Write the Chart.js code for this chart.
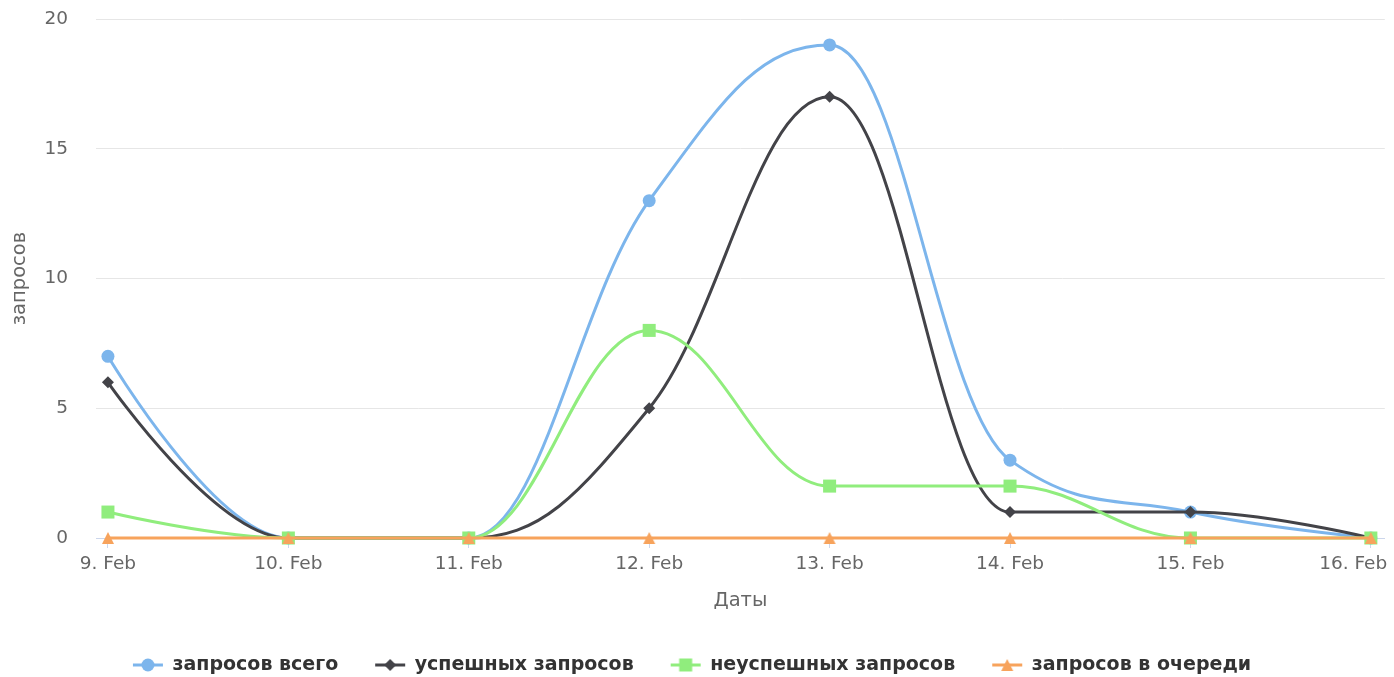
<!DOCTYPE html>
<html><head><meta charset="utf-8">
<script src="https://cdn.jsdelivr.net/npm/chart.js@4.4.1/dist/chart.umd.min.js"></script>
<style>html,body{margin:0;padding:0;background:#fff;overflow:hidden}#wrap{width:1394px;height:677px;position:relative}</style>
</head><body><div id="wrap"><canvas id="c" width="1394" height="677"></canvas></div>
<script>
const categories = ['9. Feb','10. Feb','11. Feb','12. Feb','13. Feb','14. Feb','15. Feb','16. Feb'];
const totalRequests = [7, 0, 0, 13, 19, 3, 1, 0];
const successfulRequests = [6, 0, 0, 5, 17, 1, 1, 0];
const failedRequests = [1, 0, 0, 8, 2, 2, 0, 0];
const queuedRequests = [0, 0, 0, 0, 0, 0, 0, 0];
const seriesNames = ['запросов всего', 'успешных запросов', 'неуспешных запросов', 'запросов в очереди'];
const seriesColors = ['#7cb5ec', '#434348', '#90ed7d', '#f7a35c'];
const markerKinds = ['circle', 'diamond', 'square', 'triangle'];
const yTicks = [0, 5, 10, 15, 20];
const xTitle = 'Даты';
const yTitle = 'запросов';

Chart.defaults.font.family = '"DejaVu Sans", Verdana, sans-serif';

function drawMarker(ctx, kind, cx, cy, color) {
  ctx.fillStyle = color;
  ctx.beginPath();
  if (kind === 'circle') ctx.arc(cx, cy, 6.5, 0, Math.PI * 2);
  else if (kind === 'diamond') { ctx.moveTo(cx, cy - 6); ctx.lineTo(cx + 6, cy); ctx.lineTo(cx, cy + 6); ctx.lineTo(cx - 6, cy); ctx.closePath(); }
  else if (kind === 'square') ctx.rect(cx - 6.5, cy - 6.5, 13, 13);
  else { ctx.moveTo(cx, cy - 6); ctx.lineTo(cx + 6, cy + 6); ctx.lineTo(cx - 6, cy + 6); ctx.closePath(); }
  ctx.fill();
}

function makeTriangle(color) {
  const c = document.createElement('canvas');
  c.width = 14; c.height = 14;
  drawMarker(c.getContext('2d'), 'triangle', 7, 7, color);
  return c;
}

// legend box width (Chart.js) and symbol image: symbol (30px line + marker) ends at the box's right edge
const LEG_BOX = 24;
const LEG_IMG = 48;
function makeLegendSymbol(kind, color) {
  const c = document.createElement('canvas');
  c.width = LEG_IMG; c.height = 16;
  const ctx = c.getContext('2d');
  const right = LEG_IMG / 2 + LEG_BOX / 2;
  ctx.strokeStyle = color; ctx.lineWidth = 3;
  ctx.beginPath(); ctx.moveTo(right - 30, 8); ctx.lineTo(right, 8); ctx.stroke();
  drawMarker(ctx, kind, right - 15, 8, color);
  return c;
}
const legendSymbols = markerKinds.map((k, i) => makeLegendSymbol(k, seriesColors[i]));

// Highcharts-like spline control points, computed from the points that Chart.js placed on its scales
const splinePlugin = {
  id: 'hcSpline',
  beforeDatasetDraw(chart, args) {
    const meta = args.meta;
    const line = meta.dataset;
    if (!line) return;
    line.updateControlPoints(chart.chartArea, 'x');
    const pts = meta.data;
    const s = 1.5, denom = s + 1;
    for (let i = 0; i < pts.length; i++) {
      const p = pts[i];
      const last = pts[i - 1], next = pts[i + 1];
      if (last && next) {
        let lcx = (s * p.x + last.x) / denom, lcy = (s * p.y + last.y) / denom;
        let rcx = (s * p.x + next.x) / denom, rcy = (s * p.y + next.y) / denom;
        let corr = 0;
        if (rcx !== lcx) corr = ((rcy - lcy) * (rcx - p.x)) / (rcx - lcx) + p.y - rcy;
        lcy += corr; rcy += corr;
        if (lcy > last.y && lcy > p.y) { lcy = Math.max(last.y, p.y); rcy = 2 * p.y - lcy; }
        else if (lcy < last.y && lcy < p.y) { lcy = Math.min(last.y, p.y); rcy = 2 * p.y - lcy; }
        if (rcy > next.y && rcy > p.y) { rcy = Math.max(next.y, p.y); lcy = 2 * p.y - rcy; }
        else if (rcy < next.y && rcy < p.y) { rcy = Math.min(next.y, p.y); lcy = 2 * p.y - rcy; }
        p.cp1x = lcx; p.cp1y = lcy; p.cp2x = rcx; p.cp2y = rcy;
      } else {
        p.cp1x = p.x; p.cp1y = p.y; p.cp2x = p.x; p.cp2y = p.y;
      }
    }
  }
};

const toPoints = arr => arr.map((v, i) => ({x: i, y: v}));
const seriesValues = [totalRequests, successfulRequests, failedRequests, queuedRequests];
const pointStyles = ['circle', 'rectRot', 'rect', makeTriangle(seriesColors[3])];
const pointRadii = [6.5, 6, 9.2, 7];

const datasets = seriesValues.map((vals, i) => ({
  label: seriesNames[i],
  data: toPoints(vals),
  borderColor: seriesColors[i],
  backgroundColor: seriesColors[i],
  borderWidth: 3,
  pointStyle: pointStyles[i],
  pointRadius: pointRadii[i],
  pointHoverRadius: pointRadii[i],
  pointBorderWidth: 0,
  pointHoverBorderWidth: 0,
  tension: 0.4,
  capBezierPoints: false,
  fill: false,
  clip: false,
  order: 3 - i
}));

new Chart(document.getElementById('c'), {
  type: 'line',
  data: {datasets},
  plugins: [splinePlugin],
  options: {
    responsive: false,
    animation: false,
    events: [],
    layout: {padding: {top: 19, right: 4, bottom: -7.5, left: 0}},
    plugins: {
      tooltip: {enabled: false},
      legend: {
        position: 'bottom',
        labels: {
          usePointStyle: true,
          pointStyleWidth: LEG_BOX,
          padding: 43,
          color: '#333333',
          font: {size: 19, weight: 'bold'},
          generateLabels: () => seriesNames.map((n, i) => ({
            text: n, pointStyle: legendSymbols[i], fillStyle: seriesColors[i],
            strokeStyle: seriesColors[i], lineWidth: 0, hidden: false, datasetIndex: i, fontColor: '#333333'
          }))
        }
      }
    },
    scales: {
      x: {
        type: 'linear',
        min: -0.0662,
        max: 7.0773,
        afterBuildTicks: s => { s.ticks = categories.map((c, i) => ({value: i})); },
        afterFit: s => { s.height = 74.5; s.paddingLeft = 0; s.paddingRight = 0; },
        ticks: {
          autoSkip: false, maxRotation: 0, padding: 5, color: '#666666',
          font: {size: 18.5},
          callback: v => (v === categories.length - 1 ? categories[v] + '      ' : categories[v])
        },
        grid: {display: true, drawOnChartArea: false, drawTicks: true, tickLength: 10, color: '#ccd6eb'},
        border: {display: true, color: '#ccd6eb', width: 1},
        title: {display: true, text: xTitle, color: '#666666', font: {size: 19.5}, padding: {top: 0, bottom: 0}}
      },
      y: {
        type: 'linear',
        min: 0,
        max: 20,
        afterBuildTicks: s => { s.ticks = yTicks.map(v => ({value: v})); },
        afterFit: s => { s.width = 96; s.paddingTop = 0; s.paddingBottom = 0; },
        ticks: {color: '#666666', font: {size: 18.5}, padding: 28},
        grid: {color: '#e6e6e6', drawTicks: false},
        border: {display: false},
        title: {display: true, text: yTitle, color: '#666666', font: {size: 19.5}, padding: {top: 8.3, bottom: 0}}
      }
    }
  }
});
</script>
</body></html>
